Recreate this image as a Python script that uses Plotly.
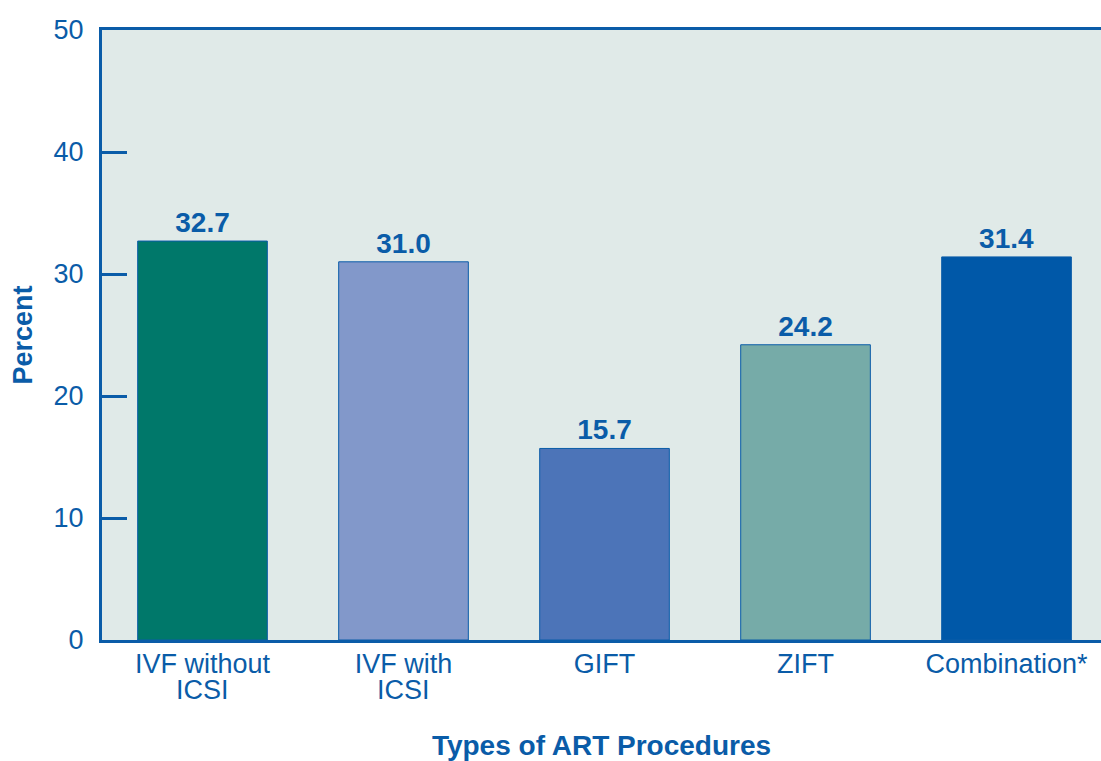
import plotly.graph_objects as go

categories = ["IVF without ICSI", "IVF with ICSI", "GIFT", "ZIFT", "Combination*"]
label_line1 = ["IVF without", "IVF with", "GIFT", "ZIFT", "Combination*"]
label_line2 = ["ICSI", "ICSI", "", "", ""]
percent = [32.7, 31.0, 15.7, 24.2, 31.4]
labels = ["32.7", "31.0", "15.7", "24.2", "31.4"]
bar_colors = ["#00786A", "#8298CA", "#4C74B8", "#76ABA8", "#0058A8"]
y_ticks = [0, 10, 20, 30, 40, 50]

blue = "#0A5CA8"
font = "Liberation Sans, Arial, sans-serif"

fig = go.Figure()
fig.add_trace(go.Bar(
    x=categories, y=percent,
    width=0.645,
    marker=dict(color=bar_colors, line=dict(color=blue, width=1)),
    text=labels, textposition="outside", cliponaxis=False,
    textfont=dict(family=font, size=28, color=blue, weight="bold"),
))

# second line of the two-line category names, set tighter than <br> allows
for cat, txt in zip(categories, label_line2):
    if txt:
        fig.add_annotation(x=cat, y=0, yref="paper", yanchor="top", yshift=-33,
                           text=txt, showarrow=False,
                           font=dict(family=font, size=27, color=blue))

fig.update_layout(
    width=1101, height=761,
    margin=dict(l=102, r=0, t=30, b=121),
    paper_bgcolor="white", plot_bgcolor="#E0EAE8",
    showlegend=False,
    font=dict(family=font, color=blue),
)
fig.update_xaxes(
    range=[-0.5, 4.47], showline=True, linecolor=blue, linewidth=3, mirror=True,
    ticks="", tickmode="array", tickvals=categories, ticktext=label_line1,
    tickfont=dict(size=27, color=blue), ticklabelstandoff=-2,
    title=dict(text="<b>Types of ART Procedures</b>", font=dict(size=28, color=blue), standoff=62),
)
fig.update_yaxes(
    range=[0, 50], tickvals=y_ticks, showgrid=False, zeroline=False,
    showline=True, linecolor=blue, linewidth=3,
    ticks="inside", ticklen=25, tickwidth=3, tickcolor=blue,
    tickfont=dict(size=27, color=blue), ticklabelstandoff=10,
    title=dict(text="<b>Percent</b>", font=dict(size=27, color=blue), standoff=14),
)

fig.write_html("out.html", config={"displayModeBar": False},
               post_script="document.body.style.margin='0px';")
